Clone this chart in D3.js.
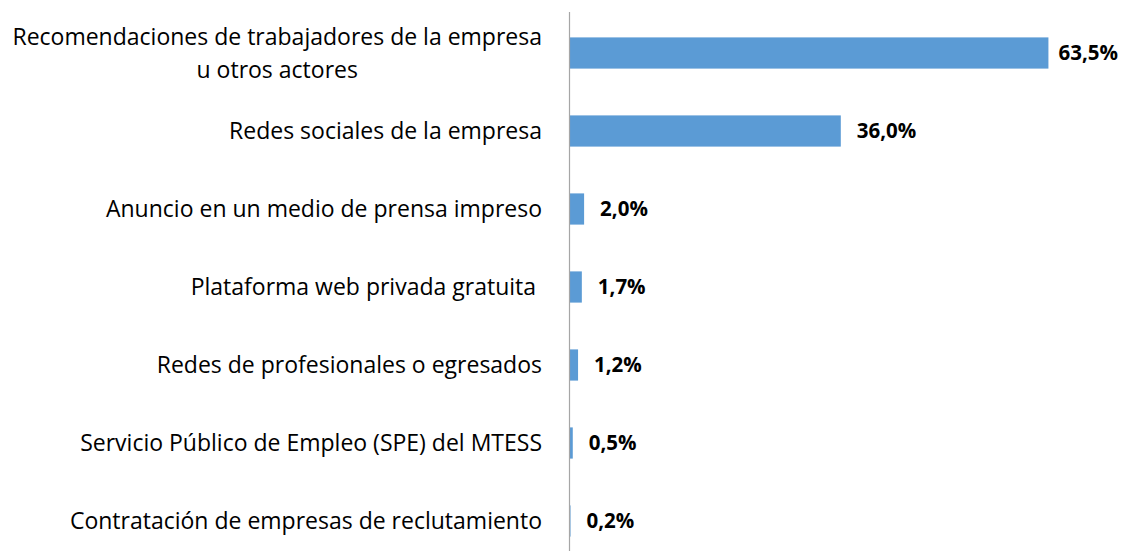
<!DOCTYPE html>
<html>
<head>
<meta charset="utf-8">
<script src="https://cdn.jsdelivr.net/npm/d3@7"></script>
<style>
  body { margin: 0; background: #fff; }
  svg { display: block; }
  text { white-space: pre; }
</style>
</head>
<body>
<div id="chart"></div>
<script>
// categories (top to bottom), lines split where the original wraps
const categories = [
  ['Recomendaciones de trabajadores de la empresa', 'u otros actores'],
  ['Redes sociales de la empresa'],
  ['Anuncio en un medio de prensa impreso'],
  ['Plataforma web privada gratuita '],
  ['Redes de profesionales o egresados'],
  ['Servicio Público de Empleo (SPE) del MTESS'],
  ['Contratación de empresas de reclutamiento']
];
const values = [63.5, 36.0, 2.0, 1.7, 1.2, 0.5, 0.2];
const valueLabels = ['63,5%', '36,0%', '2,0%', '1,7%', '1,2%', '0,5%', '0,2%'];

function draw() {
    // SVG dimensions
    const dimensions = {
        width: 1122,
        height: 551,
        axisX: 569,
        top: 14
    };

    const rows = d3.range(values.length);

    const x = d3.scaleLinear()
        .domain([0, 100])
        .range([dimensions.axisX, dimensions.axisX + 755]);

    const y = d3.scaleBand()
        .domain(rows)
        .range([dimensions.top, dimensions.top + 78 * rows.length])
        .paddingInner(0.6)
        .paddingOuter(0.3);

    const svg = d3.select('#chart')
        .append('svg')
        .attr('width', dimensions.width)
        .attr('height', dimensions.height);

    // bars
    svg.append('g')
        .selectAll('rect')
        .data(rows)
        .join('rect')
        .attr('x', x(0))
        .attr('y', i => y(i))
        .attr('width', i => x(values[i]) - x(0))
        .attr('height', y.bandwidth())
        .attr('fill', '#5B9BD5');

    // vertical axis line
    svg.append('line')
        .attr('x1', x(0) + 0.5)
        .attr('x2', x(0) + 0.5)
        .attr('y1', 12)
        .attr('y2', dimensions.height)
        .attr('stroke', '#A6A6A6')
        .attr('stroke-width', 1.2);

    // value labels (pushed back inside the plot if they'd run off the right edge)
    svg.append('g')
        .selectAll('text')
        .data(rows)
        .join('text')
        .attr('y', i => y(i) + y.bandwidth() / 2)
        .attr('dy', '0.36em')
        .attr('font-family', '"Open Sans", sans-serif')
        .attr('font-weight', 'bold')
        .attr('font-size', 20.5)
        .attr('fill', '#000')
        .text(i => valueLabels[i])
        .attr('x', function(i) {
            const w = this.getComputedTextLength();
            return Math.min(x(values[i]) + 16, dimensions.width - 4 - w);
        });

    // category labels, right aligned, extra lines centred on the first one
    const labelRight = x(0) - 27;
    const lineHeight = 33;
    const catG = svg.append('g')
        .attr('font-family', '"Open Sans", sans-serif')
        .attr('font-size', 23)
        .attr('fill', '#000');

    rows.forEach(i => {
        const lines = categories[i];
        const cy = y(i) + y.bandwidth() / 2;
        const first = catG.append('text')
            .attr('text-anchor', 'end')
            .attr('x', labelRight)
            .attr('y', cy - (lines.length - 1) * lineHeight / 2)
            .attr('dy', '0.36em')
            .text(lines[0]);
        const w = first.node().getComputedTextLength();
        lines.slice(1).forEach((t, k) => {
            catG.append('text')
                .attr('text-anchor', 'middle')
                .attr('x', labelRight - w / 2)
                .attr('y', cy - (lines.length - 1) * lineHeight / 2 + (k + 1) * lineHeight)
                .attr('dy', '0.36em')
                .text(t);
        });
    });
}

draw();
</script>
</body>
</html>
